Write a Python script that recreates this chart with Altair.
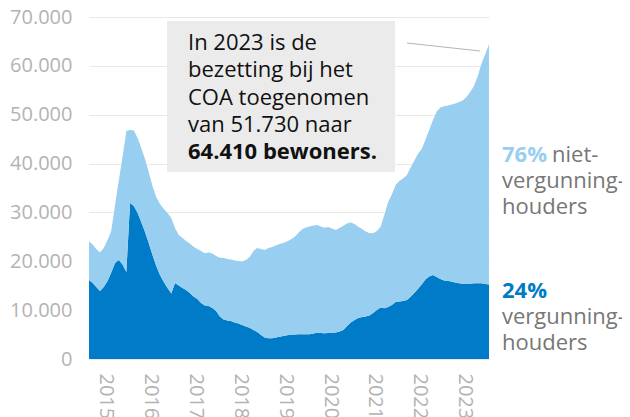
import altair as alt
import pandas as pd

# Maandelijkse bezetting COA, januari 2015 t/m december 2023
totaal = [
    24050, 23440, 22510, 21800, 22720, 24360, 26200, 31520, 36640, 41350, 46670, 46870,
    46770, 45230, 43190, 40940, 38280, 35410, 33160, 31730, 30700, 29880, 28860, 26810,
    25380, 24770, 24150, 23640, 22990, 22510, 22110, 21630, 21800, 21590, 21080, 20730,
    20670, 20470, 20370, 20160, 20060, 19960, 20260, 20880, 22110, 22720, 22510, 22310,
    22720, 22920, 23230, 23540, 23740, 24050, 24460, 24970, 25790, 26550, 26920, 27120,
    27320, 27430, 27120, 26870, 27020, 26710, 26400, 26810, 27280, 27730, 27940, 27630,
    27080, 26610, 26100, 25790, 25730, 26200, 27020, 29470, 32130, 33670, 35610, 36430,
    36940, 37660, 39090, 40530, 41960, 42980, 44830, 46870, 48920, 50660, 51480, 51730,
    51890, 52090, 52300, 52600, 52910, 53630, 54650, 55880, 57920, 60480, 62430, 64410,
]
vergunninghouders = [
    16170, 15560, 14740, 13920, 14740, 15970, 17710, 19650, 20260, 19340, 17810, 31930,
    31320, 29880, 28040, 25990, 23740, 21290, 19040, 17190, 15760, 14530, 13410, 15560,
    15040, 14530, 14120, 13510, 12790, 12280, 11460, 10950, 10850, 10440, 9820, 8700,
    8090, 7880, 7780, 7470, 7270, 6960, 6650, 6410, 5940, 5530, 4910, 4400,
    4240, 4260, 4400, 4560, 4710, 4850, 4950, 5040, 5080, 5060, 5060, 5060,
    5220, 5380, 5320, 5260, 5320, 5360, 5420, 5630, 5940, 6750, 7470, 7980,
    8390, 8600, 8700, 8900, 9420, 10030, 10540, 10380, 10640, 11050, 11670, 11770,
    11870, 12080, 12690, 13510, 14330, 15250, 16270, 16890, 17190, 16780, 16370, 16070,
    16030, 15820, 15660, 15490, 15390, 15350, 15410, 15490, 15490, 15490, 15350, 15250,
]
years = list(range(2015, 2024))
y_ticks = [0, 10000, 20000, 30000, 40000, 50000, 60000, 70000]
groups = ["vergunninghouders", "niet-vergunninghouders"]
colors = ["#007bc7", "#98cef0"]

dates = pd.date_range("2015-01-01", periods=len(totaal), freq="MS")
rows = []
for d, t, v in zip(dates, totaal, vergunninghouders):
    rows.append({"datum": d, "groep": groups[0], "aantal": v, "volgorde": 0})
    rows.append({"datum": d, "groep": groups[1], "aantal": t - v, "volgorde": 1})
df = pd.DataFrame(rows)

FONT = "Open Sans"
GRAY = "#b3b3b3"
TXT = "#777777"

x_scale = alt.Scale(domain=[alt.DateTime(year=2015, month=1, date=1),
                            alt.DateTime(year=2023, month=12, date=1)])
y_scale = alt.Scale(domain=[0, 70000])

area = alt.Chart(df).mark_area(interpolate="linear").encode(
    x=alt.X("datum:T", scale=x_scale, title=None,
            axis=alt.Axis(values=[alt.DateTime(year=y, month=5, date=17) for y in years],
                          format="%Y", labelAngle=90, grid=False, domain=False, ticks=False,
                          labelColor=GRAY, labelFontSize=20, labelFont=FONT,
                          labelPadding=14, labelFlush=False, labelOverlap=False)),
    y=alt.Y("aantal:Q", stack="zero", scale=y_scale, title=None,
            axis=alt.Axis(values=y_ticks, domain=False, ticks=False, grid=True,
                          gridColor="#e9e9e9", gridWidth=1.2,
                          labelColor=GRAY, labelFontSize=20, labelFont=FONT,
                          labelPadding=17,
                          labelExpr="replace(format(datum.value, ','), ',', '.')")),
    color=alt.Color("groep:N", scale=alt.Scale(domain=groups, range=colors), legend=None),
    order=alt.Order("volgorde:Q"),
)

base = alt.Chart(pd.DataFrame({"a": [0]}))

box = base.mark_rect(color="#ebebeb").encode(
    x=alt.value(78), x2=alt.value(306), y=alt.value(4), y2=alt.value(155))

pointer = base.mark_rule(color="#b5b5b5", strokeWidth=1).encode(
    x=alt.value(318), x2=alt.value(391), y=alt.value(26), y2=alt.value(34))

def txt(text, x, y, color="#111111", weight="normal", size=22):
    return base.mark_text(text=text, align="left", baseline="alphabetic", font=FONT,
                          fontSize=size, fontWeight=weight, color=color).encode(
        x=alt.value(x), y=alt.value(y))

ann_lines = ["In 2023 is de", "bezetting bij het", "COA toegenomen", "van 51.730 naar"]
ann = [txt(line, 99, 33 + i * 27.3) for i, line in enumerate(ann_lines)]
ann.append(txt("64.410 bewoners.", 99, 33 + 4 * 27.3, weight="bold"))

labels = [
    txt("76%", 413, 145, color=colors[1], weight="bold"),
    txt("niet-", 463, 145, color=TXT),
    txt("vergunning-", 413, 171, color=TXT),
    txt("houders", 413, 197, color=TXT),
    txt("24%", 413, 281, color=colors[0], weight="bold"),
    txt("vergunning-", 413, 307, color=TXT),
    txt("houders", 413, 333, color=TXT),
]

chart = alt.layer(area, box, pointer, *ann, *labels).properties(
    width=400, height=342,
    padding={"left": 81, "top": 9, "right": 133, "bottom": 58},
    autosize=alt.AutoSizeParams(type="none"),
).configure_view(stroke=None)

chart.save("out.html", embed_options={"renderer": "svg", "actions": False})
